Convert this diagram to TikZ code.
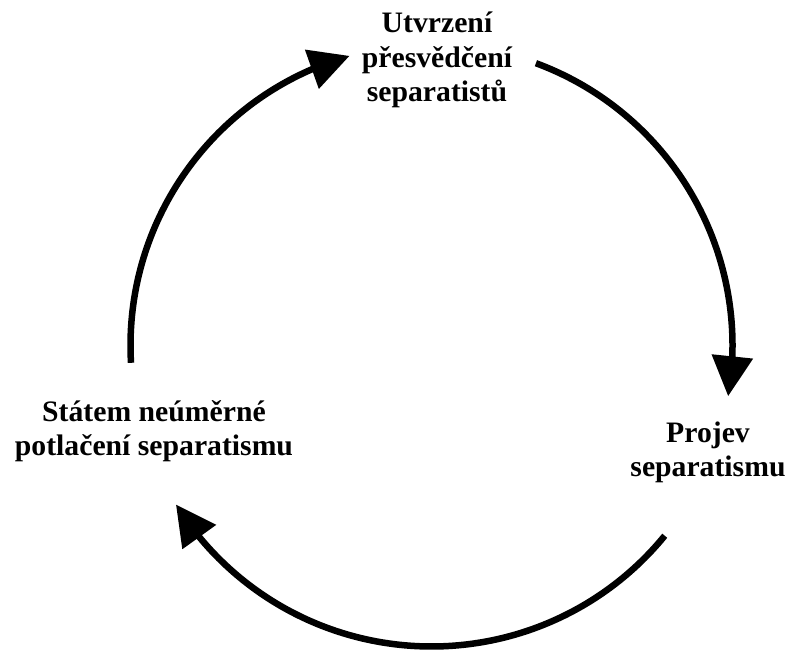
\documentclass[tikz,border=0pt]{standalone}
\usepackage{fontspec}
\setmainfont{Liberation Serif}
\usepackage{tikz}
\usetikzlibrary{arrows.meta,bending,positioning}

\begin{document}
\begin{tikzpicture}[x=1pt, y=1pt,
	phase/.style={align=center, font=\bfseries\fontsize{29.7}{34.5}\selectfont}]
	% Fix the page size
	\useasboundingbox (-431.5,-309.5) rectangle (356.5,345.5);
	% Define radius of the cycle
	\def \radius {301}
	% Draw nodes
	\node[phase] (upevneni) at (5.5,285.5) {Utvrzení\\přesvědčení\\separatistů};
	\node[phase] (projev) at (276.5,-107) {Projev\\separatismu};
	\node[phase] (potlaceni) at (-277.5,-85.5) {Státem neúměrné\\potlačení separatismu};
	% Draw arcs
	\draw[->, >={Triangle[length=40pt,width=40pt]}, line width=6.5pt] ({183.3}:\radius) arc ({183.3}:{105.8}:\radius);
	\draw[->, >={Triangle[length=40pt,width=40pt]}, line width=6.5pt] ({69.7}:\radius) arc ({69.7}:{-9.7}:\radius);
	\draw[->, >={Triangle[length=40pt,width=40pt]}, line width=6.5pt] ({-39.2}:\radius) arc ({-39.2}:{-148.1}:\radius);
\end{tikzpicture}
\end{document}
